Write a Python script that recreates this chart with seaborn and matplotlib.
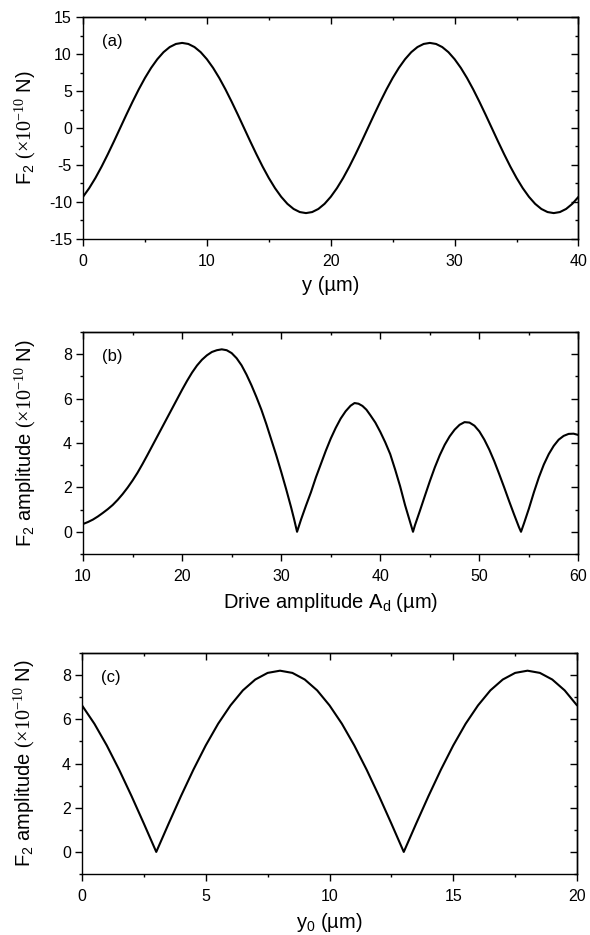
import matplotlib
matplotlib.use("Agg")
import matplotlib.pyplot as plt
import seaborn as sns
import pandas as pd
from matplotlib.ticker import MultipleLocator

# ---------------- data ----------------
# Panel (a): F2 vs y
ya = [0, 0.5, 1, 1.5, 2, 2.5, 3, 3.5, 4, 4.5, 5, 5.5, 6, 6.5, 7, 7.5, 8, 8.5, 9, 9.5,
      10, 10.5, 11, 11.5, 12, 12.5, 13, 13.5, 14, 14.5, 15, 15.5, 16, 16.5, 17, 17.5, 18, 18.5, 19, 19.5,
      20, 20.5, 21, 21.5, 22, 22.5, 23, 23.5, 24, 24.5, 25, 25.5, 26, 26.5, 27, 27.5, 28, 28.5, 29, 29.5,
      30, 30.5, 31, 31.5, 32, 32.5, 33, 33.5, 34, 34.5, 35, 35.5, 36, 36.5, 37, 37.5, 38, 38.5, 39, 39.5, 40]
Fa = [-9.3, -8.13, -6.76, -5.22, -3.55, -1.8, 0.0, 1.8, 3.55, 5.22, 6.76, 8.13, 9.3, 10.25, 10.94, 11.36, 11.5, 11.36, 10.94, 10.25,
      9.3, 8.13, 6.76, 5.22, 3.55, 1.8, 0.0, -1.8, -3.55, -5.22, -6.76, -8.13, -9.3, -10.25, -10.94, -11.36, -11.5, -11.36, -10.94, -10.25,
      -9.3, -8.13, -6.76, -5.22, -3.55, -1.8, 0.0, 1.8, 3.55, 5.22, 6.76, 8.13, 9.3, 10.25, 10.94, 11.36, 11.5, 11.36, 10.94, 10.25,
      9.3, 8.13, 6.76, 5.22, 3.55, 1.8, 0.0, -1.8, -3.55, -5.22, -6.76, -8.13, -9.3, -10.25, -10.94, -11.36, -11.5, -11.36, -10.94, -10.25, -9.3]

# Panel (b): F2 amplitude vs drive amplitude
Ad = [10, 10.5, 11, 11.5, 12, 12.5, 13, 13.5, 14, 14.5, 15, 15.5, 16, 16.5, 17, 17.5, 18, 18.5, 19, 19.5,
      20, 20.5, 21, 21.5, 22, 22.5, 23, 23.5, 24, 24.5, 25, 25.5, 26, 26.5, 27, 27.5, 28, 28.5, 29, 29.5,
      30, 30.5, 31, 31.3, 31.6,
      32, 32.5, 33, 33.5, 34, 34.5, 35, 35.5, 36, 36.5, 37, 37.4, 37.8, 38.2, 38.6, 39, 39.5,
      40, 40.5, 41, 41.5, 42, 42.5, 43, 43.3,
      43.5, 44, 44.5, 45, 45.5, 46, 46.5, 47, 47.5, 48, 48.5, 49, 49.5,
      50, 50.5, 51, 51.5, 52, 52.5, 53, 53.5, 54, 54.2,
      54.5, 55, 55.5, 56, 56.5, 57, 57.5, 58, 58.5, 59, 59.5, 60]
Fb = [0.35, 0.44, 0.55, 0.69, 0.85, 1.02, 1.21, 1.44, 1.7, 1.99, 2.31, 2.66, 3.05, 3.46, 3.88, 4.3, 4.72, 5.14, 5.56, 5.98,
      6.4, 6.8, 7.17, 7.49, 7.75, 7.95, 8.1, 8.18, 8.22, 8.18, 8.05, 7.82, 7.5, 7.08, 6.6, 6.07, 5.5, 4.85, 4.15, 3.45,
      2.7, 1.92, 1.1, 0.57, 0.0,
      0.55, 1.18, 1.78, 2.45, 3.05, 3.65, 4.2, 4.68, 5.1, 5.43, 5.68, 5.8, 5.77, 5.67, 5.5, 5.25, 4.92,
      4.5, 4.03, 3.5, 2.8, 2.05, 1.2, 0.45, 0.0,
      0.3, 0.95, 1.62, 2.28, 2.9, 3.45, 3.92, 4.3, 4.6, 4.82, 4.94, 4.92, 4.78,
      4.52, 4.15, 3.7, 3.18, 2.6, 2.0, 1.38, 0.78, 0.2, 0.0,
      0.38, 1.05, 1.78, 2.45, 3.03, 3.5, 3.87, 4.15, 4.32, 4.41, 4.42, 4.36]

# Panel (c): F2 amplitude vs y0
y0 = [0, 0.5, 1, 1.5, 2, 2.5, 3, 3.5, 4, 4.5, 5, 5.5, 6, 6.5, 7, 7.5, 8, 8.5, 9, 9.5,
      10, 10.5, 11, 11.5, 12, 12.5, 13, 13.5, 14, 14.5, 15, 15.5, 16, 16.5, 17, 17.5, 18, 18.5, 19, 19.5, 20]
Fc = [6.63, 5.8, 4.82, 3.72, 2.53, 1.28, 0.0, 1.28, 2.53, 3.72, 4.82, 5.8, 6.63, 7.31, 7.8, 8.1, 8.2, 8.1, 7.8, 7.31,
      6.63, 5.8, 4.82, 3.72, 2.53, 1.28, 0.0, 1.28, 2.53, 3.72, 4.82, 5.8, 6.63, 7.31, 7.8, 8.1, 8.2, 8.1, 7.8, 7.31, 6.63]

# ---------------- style ----------------
sns.set_style("ticks")
plt.rcParams["font.family"] = ["Liberation Sans", "DejaVu Sans"]
plt.rcParams["mathtext.fontset"] = "custom"
plt.rcParams["mathtext.rm"] = "Liberation Serif"
plt.rcParams["mathtext.it"] = "Liberation Serif:italic"
plt.rcParams["mathtext.sf"] = "Liberation Sans"
plt.rcParams["axes.linewidth"] = 1.0
plt.rcParams["axes.unicode_minus"] = False
for k in ["text.color", "axes.labelcolor", "xtick.color", "ytick.color", "axes.edgecolor"]:
    plt.rcParams[k] = "black"

fig = plt.figure(figsize=(5.9, 9.35), dpi=100)
axA = fig.add_axes([0.1407, 0.7444, 0.8398, 0.2374])
axB = fig.add_axes([0.1407, 0.4075, 0.8398, 0.2374])
axC = fig.add_axes([0.1390, 0.0652, 0.8390, 0.2364])

dfa = pd.DataFrame({"x": ya, "y": Fa})
dfb = pd.DataFrame({"x": Ad, "y": Fb})
dfc = pd.DataFrame({"x": y0, "y": Fc})

ylab = r"F$_{\mathsf{2}}$ $(\times10^{-10}$ N)"
ylab2 = r"F$_{\mathsf{2}}$ amplitude $(\times10^{-10}$ N)"

panels = [
    (axA, dfa, (0, 40), (-15, 15), 10, 5, 5, 2.5, "y (µm)", ylab, "(a)"),
    (axB, dfb, (10, 60), (-1, 9), 10, 5, 2, 1, r"Drive amplitude A$_{\mathsf{d}}$ (µm)", ylab2, "(b)"),
    (axC, dfc, (0, 20), (-1, 9), 5, 2.5, 2, 1, r"y$_{\mathsf{0}}$ (µm)", ylab2, "(c)"),
]

for ax, df, xl, yl, xmaj, xmin, ymaj, ymin, xlabel, ylabel, tag in panels:
    sns.lineplot(data=df, x="x", y="y", ax=ax, color="black", linewidth=1.5,
                 estimator=None, sort=False)
    for ln in ax.get_lines():
        ln.set_solid_joinstyle("round")
    ax.set_xlim(*xl)
    ax.set_ylim(*yl)
    ax.xaxis.set_major_locator(MultipleLocator(xmaj))
    ax.xaxis.set_minor_locator(MultipleLocator(xmin))
    ax.yaxis.set_major_locator(MultipleLocator(ymaj))
    ax.yaxis.set_minor_locator(MultipleLocator(ymin))
    ax.tick_params(which="major", direction="out", length=5, width=1.0, labelsize=11.5,
                   colors="black")
    ax.tick_params(axis="x", which="major", pad=6)
    ax.tick_params(axis="y", which="major", pad=3)
    ax.tick_params(which="minor", direction="out", length=2.5, width=1.0, colors="black")
    for s in ax.spines.values():
        s.set_visible(True)
        s.set_linewidth(1.0)
        s.set_color("black")
    # inward ticks on top and right
    secx = ax.secondary_xaxis("top")
    secx.xaxis.set_major_locator(MultipleLocator(xmaj))
    secx.xaxis.set_minor_locator(MultipleLocator(xmin))
    secx.tick_params(which="major", direction="in", length=5, width=1.0, labeltop=False)
    secx.tick_params(which="minor", direction="in", length=2.5, width=1.0)
    secy = ax.secondary_yaxis("right")
    secy.yaxis.set_major_locator(MultipleLocator(ymaj))
    secy.yaxis.set_minor_locator(MultipleLocator(ymin))
    secy.tick_params(which="major", direction="in", length=5, width=1.0, labelright=False)
    secy.tick_params(which="minor", direction="in", length=2.5, width=1.0)

    ax.set_xlabel(xlabel, fontsize=14.5, labelpad=5)
    ax.set_ylabel(ylabel, fontsize=14.5)
    ax.yaxis.set_label_coords(-0.09, 0.5)
    ax.text(0.038, 0.89, tag, transform=ax.transAxes, fontsize=12, va="center", ha="left")

fig.savefig("out.png", dpi=100)
